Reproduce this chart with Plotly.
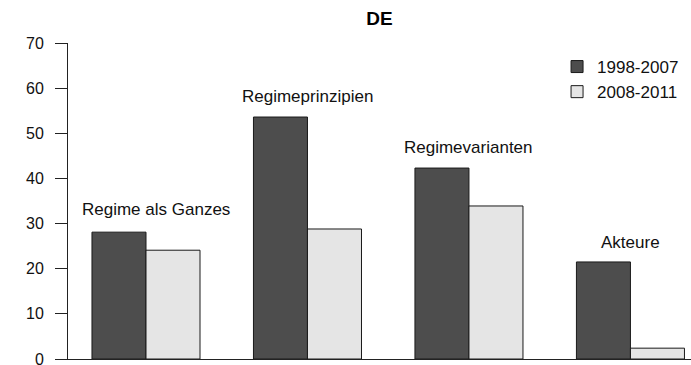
import plotly.graph_objects as go

# Category labels and shares per period (in %)
categories = ["Regime als Ganzes", "Regimeprinzipien", "Regimevarianten", "Akteure"]
period_a = "1998-2007"
period_b = "2008-2011"
values_a = [28.1, 53.6, 42.3, 21.5]
values_b = [24.1, 28.8, 33.9, 2.4]
y_ticks = [0, 10, 20, 30, 40, 50, 60, 70]

FONT = "Liberation Sans, Arial, sans-serif"
positions = list(range(len(categories)))

fig = go.Figure()
fig.add_trace(go.Bar(
    x=positions, y=values_a, name=period_a,
    marker=dict(color="#4d4d4d", line=dict(color="#1a1a1a", width=1)),
))
fig.add_trace(go.Bar(
    x=positions, y=values_b, name=period_b,
    marker=dict(color="#e5e5e5", line=dict(color="#1a1a1a", width=1)),
))

# Category names above each group
label_xshift = [10, 0, 0, 0]
label_yshift = [11, 9, 9, 8]
for i, (cat, va, vb) in enumerate(zip(categories, values_a, values_b)):
    fig.add_annotation(
        x=i, y=max(va, vb), text=cat, showarrow=False,
        yanchor="bottom", xanchor="center",
        xshift=label_xshift[i], yshift=label_yshift[i],
        font=dict(family=FONT, size=17, color="#111111"),
    )

fig.update_layout(
    width=691, height=365,
    margin=dict(l=68, r=0, t=43, b=6, autoexpand=False),
    paper_bgcolor="white", plot_bgcolor="white",
    barmode="group", bargap=0.331, bargroupgap=0,
    title=dict(text="<b>DE</b>", x=0.5, xref="paper", xanchor="center",
               y=1 - 18 / 365, yanchor="middle",
               font=dict(family=FONT, size=19, color="#000000")),
    legend=dict(x=0.785, y=1 - (49 - 43) / 316, xanchor="left", yanchor="top",
                font=dict(family=FONT, size=17, color="#111111"),
                bgcolor="rgba(0,0,0,0)", itemclick=False, tracegroupgap=0),
    showlegend=True,
    font=dict(family=FONT),
)
fig.update_xaxes(range=[-0.483, 3.375], showticklabels=False, ticks="",
                 showgrid=False, zeroline=False, showline=True,
                 linecolor="#222222", linewidth=1, automargin=False)
fig.update_yaxes(range=[0, 70], tickvals=y_ticks, ticks="outside", ticklen=12,
                 tickcolor="#222222", showline=True, linecolor="#222222",
                 linewidth=1, showgrid=False, zeroline=False, automargin=False,
                 ticklabelstandoff=8, ticklabeloverflow="allow",
                 tickfont=dict(family=FONT, size=16, color="#111111"))

fig.write_html("out.html")
